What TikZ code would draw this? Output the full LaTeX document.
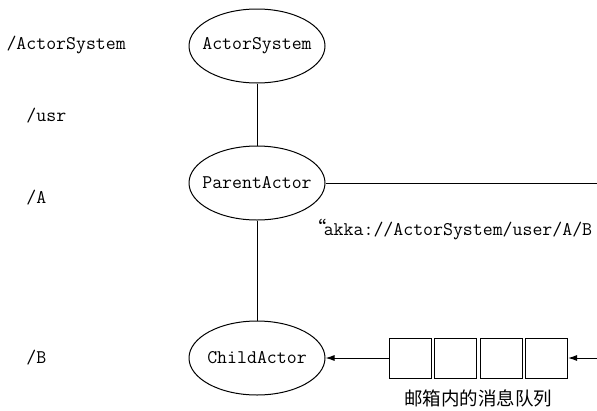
\documentclass[tikz,border=0pt]{standalone}
\usepackage{fontspec}
\newfontfamily\cjk{Noto Sans CJK SC}
\usetikzlibrary{arrows.meta,positioning,calc,shapes.geometric}

\begin{document}
\begin{tikzpicture}[x=1pt, y=-1pt, line width=1pt,
  font=\fontsize{19.3}{22}\selectfont\ttfamily,
  actor/.style={draw, ellipse, minimum width=136pt, minimum height=74pt, inner xsep=-10pt, inner ysep=0pt},
  slot/.style={draw, minimum width=42pt, minimum height=40pt, inner sep=0pt},
  pathname/.style={anchor=west, inner sep=0pt},
  >={Latex[length=9pt,width=6pt]}]
  \useasboundingbox (0,0) rectangle (597,410);

  % actor hierarchy
  \node[actor] (sys) at (257,46) {ActorSystem};
  \node[actor] (parent) at (257,183) {ParentActor};
  \node[actor] (child) at (257,358) {ChildActor};

  % path names on the left
  \node[pathname] (psys) at (6,45) {/ActorSystem};
  \node[pathname] (pusr) at (26,116) {/usr};
  \node[pathname] (pa) at (26,198) {/A};
  \node[pathname] (pb) at (26,358) {/B};

  % mailbox
  \node[slot] (m1) at (410,358) {};
  \node[slot, right=2.5pt of m1] (m2) {};
  \node[slot, right=2.5pt of m2] (m3) {};
  \node[slot, right=2.5pt of m3] (m4) {};
  \node[font=\cjk\fontsize{18.5}{21}\selectfont, anchor=base] (mbox) at ($(m2.south east)!0.5!(m3.south west)+(0,27)$) {邮箱内的消息队列};

  % address
  \node[pathname] (addr) at (307,230) {{\cjk “}\hspace{-3pt}akka://ActorSystem/user/A/B};

  % free ends at the right edge
  \coordinate (outA) at (597,183);
  \coordinate (outB) at (597,358);

  \draw (sys) -- (parent);
  \draw (parent) -- (child);
  \draw (parent) -- (outA);
  \draw[->] (outB) -- (m4);
  \draw[->] (m1) -- (child);
\end{tikzpicture}
\end{document}
